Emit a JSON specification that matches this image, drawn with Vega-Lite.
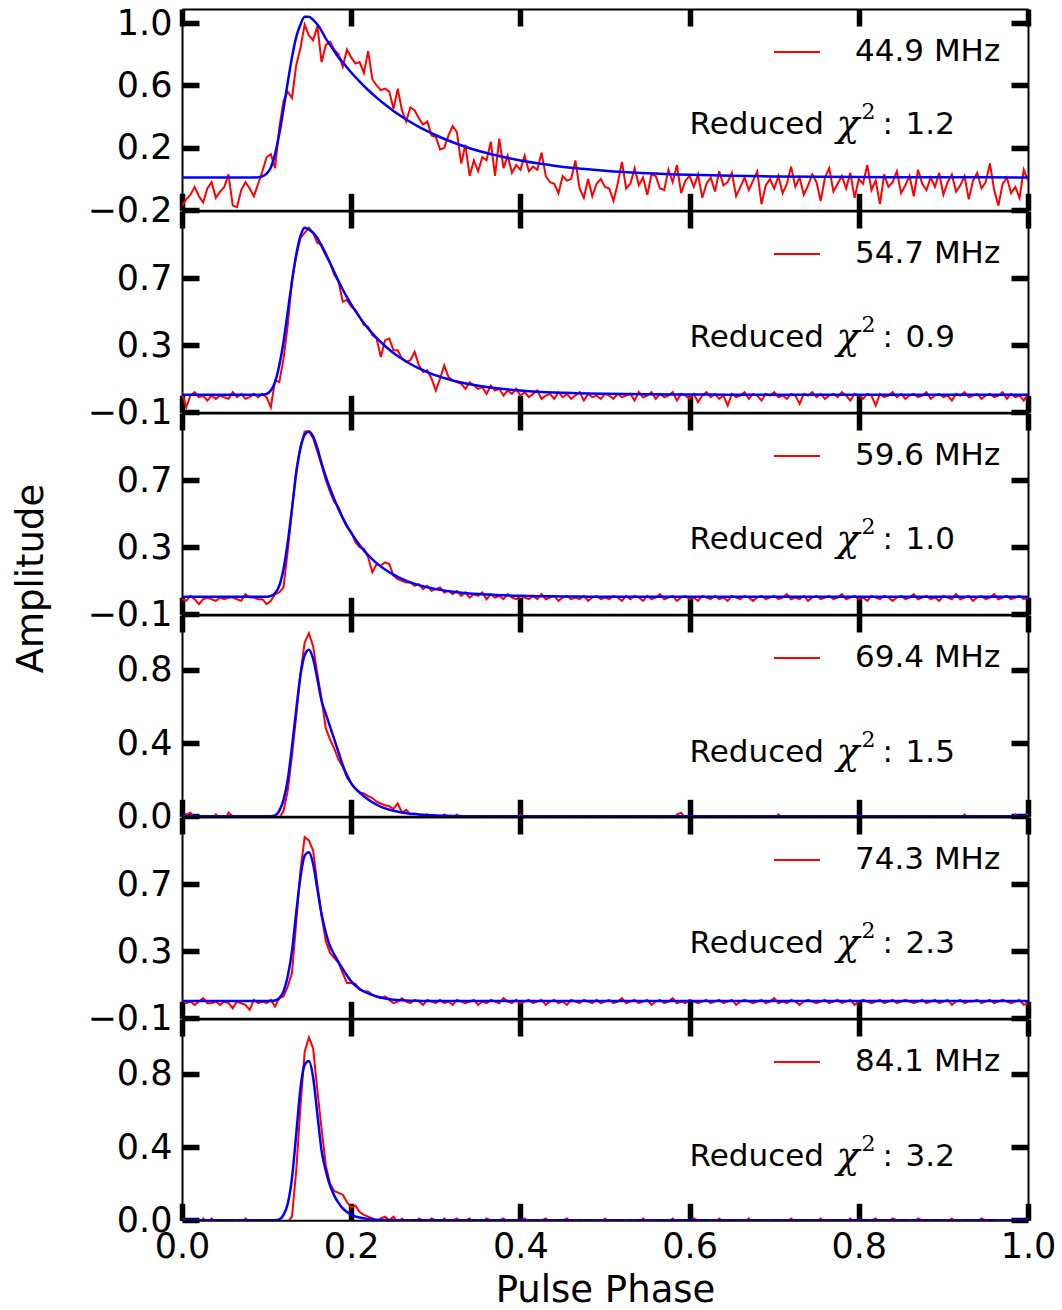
{
"$schema":"https://vega.github.io/schema/vega-lite/v6.json",
"background":"white",
"padding":{"left":11,"top":6,"right":0,"bottom":4},
"config":{
 "font":"DejaVu Sans",
 "view":{"stroke":null},
 "axis":{"grid":false,"domainColor":"#000000","domainWidth":2,"tickColor":"#000000","tickWidth":5.5,"tickSize":-17,"tickCap":"butt","labelFont":"DejaVu Sans","labelFontSize":35,"labelColor":"#000000","labelFlush":false,"labelOverlap":false,"labelPadding":27,"titleFont":"DejaVu Sans","titleFontSize":37,"titleFontWeight":"normal","titleColor":"#000000","zindex":1},
 "legend":{"orient":"none","legendX":591,"legendY":19,"padding":0,"symbolType":"stroke","symbolSize":2116,"symbolStrokeWidth":2,"labelFont":"DejaVu Sans","labelFontSize":31,"labelColor":"#000000","labelOffset":34},
 "text":{"font":"DejaVu Sans","color":"#000000"}
},
"datasets":{
"obs":[
{"p":0,"a":-0.17,"b":0.02,"c":-0.01,"d":-0.02,"e":0.01,"f":0.01},
{"p":0.005,"a":-0.13,"b":-0.07,"c":-0.02,"d":0.01,"e":-0.01,"f":-0.01},
{"p":0.01,"a":-0.10,"b":0.00,"c":0.01,"d":0.02,"e":0.00,"f":-0.02},
{"p":0.015,"a":-0.05,"b":0.02,"c":-0.01,"d":-0.01,"e":-0.02,"f":-0.01},
{"p":0.02,"a":-0.11,"b":-0.01,"c":-0.04,"d":-0.02,"e":0.00,"f":-0.03},
{"p":0.025,"a":-0.15,"b":0.00,"c":-0.01,"d":-0.03,"e":0.02,"f":0.01},
{"p":0.03,"a":-0.06,"b":-0.03,"c":0.00,"d":0.00,"e":-0.01,"f":-0.02},
{"p":0.035,"a":-0.02,"b":0.00,"c":-0.01,"d":-0.02,"e":-0.01,"f":0.01},
{"p":0.04,"a":-0.12,"b":-0.02,"c":-0.02,"d":0.01,"e":0.00,"f":-0.01},
{"p":0.045,"a":-0.08,"b":0.00,"c":0.00,"d":-0.01,"e":-0.02,"f":-0.03},
{"p":0.05,"a":-0.05,"b":-0.01,"c":-0.01,"d":-0.03,"e":0.00,"f":-0.01},
{"p":0.055,"a":0.03,"b":-0.02,"c":0.00,"d":0.02,"e":-0.01,"f":-0.02},
{"p":0.06,"a":-0.17,"b":0.02,"c":0.00,"d":0.00,"e":-0.04,"f":-0.01},
{"p":0.065,"a":-0.18,"b":-0.01,"c":-0.01,"d":-0.02,"e":0.00,"f":0.00},
{"p":0.07,"a":-0.07,"b":0.01,"c":-0.02,"d":-0.01,"e":-0.01,"f":-0.02},
{"p":0.075,"a":-0.02,"b":-0.02,"c":0.02,"d":-0.03,"e":-0.02,"f":0.01},
{"p":0.08,"a":-0.06,"b":-0.01,"c":0.00,"d":-0.02,"e":-0.05,"f":-0.01},
{"p":0.085,"a":-0.11,"b":0.01,"c":0.00,"d":-0.01,"e":0.01,"f":-0.02},
{"p":0.09,"a":-0.03,"b":-0.01,"c":-0.01,"d":-0.02,"e":-0.01,"f":-0.01},
{"p":0.095,"a":0.05,"b":0.01,"c":-0.01,"d":-0.03,"e":0.00,"f":-0.02},
{"p":0.1,"a":0.14,"b":-0.01,"c":-0.04,"d":-0.02,"e":-0.01,"f":-0.01},
{"p":0.105,"a":0.16,"b":-0.07,"c":-0.02,"d":-0.03,"e":0.01,"f":-0.02},
{"p":0.11,"a":0.07,"b":0.09,"c":0.02,"d":-0.02,"e":-0.03,"f":-0.02},
{"p":0.115,"a":0.33,"b":0.08,"c":0.03,"d":-0.01,"e":0.02,"f":-0.02},
{"p":0.12,"a":0.50,"b":0.22,"c":0.06,"d":0.03,"e":0.03,"f":-0.01},
{"p":0.125,"a":0.56,"b":0.42,"c":0.28,"d":0.14,"e":0.09,"f":-0.01},
{"p":0.13,"a":0.52,"b":0.69,"c":0.52,"d":0.33,"e":0.17,"f":0.02},
{"p":0.135,"a":0.73,"b":0.83,"c":0.76,"d":0.55,"e":0.47,"f":0.27},
{"p":0.14,"a":0.84,"b":0.94,"c":0.90,"d":0.78,"e":0.78,"f":0.62},
{"p":0.145,"a":0.99,"b":0.97,"c":0.99,"d":0.95,"e":0.98,"f":0.92},
{"p":0.15,"a":0.92,"b":1.00,"c":0.99,"d":1.00,"e":0.96,"f":1.00},
{"p":0.155,"a":0.89,"b":0.97,"c":0.95,"d":0.93,"e":0.90,"f":0.94},
{"p":0.16,"a":0.98,"b":0.91,"c":0.87,"d":0.78,"e":0.70,"f":0.71},
{"p":0.165,"a":0.75,"b":0.90,"c":0.79,"d":0.64,"e":0.51,"f":0.50},
{"p":0.17,"a":0.86,"b":0.85,"c":0.70,"d":0.48,"e":0.36,"f":0.30},
{"p":0.175,"a":0.88,"b":0.79,"c":0.63,"d":0.42,"e":0.29,"f":0.20},
{"p":0.18,"a":0.83,"b":0.72,"c":0.57,"d":0.37,"e":0.26,"f":0.16},
{"p":0.185,"a":0.80,"b":0.68,"c":0.54,"d":0.31,"e":0.23,"f":0.15},
{"p":0.19,"a":0.72,"b":0.56,"c":0.47,"d":0.27,"e":0.17,"f":0.14},
{"p":0.195,"a":0.83,"b":0.57,"c":0.42,"d":0.21,"e":0.11,"f":0.10},
{"p":0.2,"a":0.78,"b":0.53,"c":0.39,"d":0.18,"e":0.11,"f":0.07},
{"p":0.205,"a":0.74,"b":0.51,"c":0.33,"d":0.15,"e":0.105,"f":0.08},
{"p":0.21,"a":0.75,"b":0.47,"c":0.30,"d":0.13,"e":0.07,"f":0.045},
{"p":0.215,"a":0.68,"b":0.42,"c":0.29,"d":0.125,"e":0.06,"f":0.03},
{"p":0.22,"a":0.82,"b":0.41,"c":0.24,"d":0.11,"e":0.06,"f":0.02},
{"p":0.225,"a":0.64,"b":0.36,"c":0.15,"d":0.10,"e":0.04,"f":0.01},
{"p":0.23,"a":0.60,"b":0.34,"c":0.20,"d":0.08,"e":0.03,"f":-0.01},
{"p":0.235,"a":0.57,"b":0.23,"c":0.19,"d":0.07,"e":0.02,"f":0.01},
{"p":0.24,"a":0.58,"b":0.33,"c":0.21,"d":0.06,"e":0.03,"f":0.02},
{"p":0.245,"a":0.56,"b":0.34,"c":0.20,"d":0.055,"e":0.01,"f":0.00},
{"p":0.25,"a":0.45,"b":0.27,"c":0.13,"d":0.04,"e":-0.01,"f":0.02},
{"p":0.255,"a":0.58,"b":0.27,"c":0.11,"d":0.07,"e":0.00,"f":-0.01},
{"p":0.26,"a":0.44,"b":0.22,"c":0.10,"d":0.02,"e":0.02,"f":0.01},
{"p":0.265,"a":0.37,"b":0.20,"c":0.09,"d":0.035,"e":0.00,"f":-0.01},
{"p":0.27,"a":0.46,"b":0.21,"c":0.09,"d":0.01,"e":-0.01,"f":0.00},
{"p":0.275,"a":0.44,"b":0.26,"c":0.07,"d":0.015,"e":0.01,"f":-0.02},
{"p":0.28,"a":0.39,"b":0.18,"c":0.08,"d":0.01,"e":0.00,"f":0.01},
{"p":0.285,"a":0.35,"b":0.14,"c":0.05,"d":0.00,"e":-0.02,"f":0.00},
{"p":0.29,"a":0.37,"b":0.15,"c":0.07,"d":0.01,"e":0.01,"f":-0.01},
{"p":0.295,"a":0.28,"b":0.10,"c":0.04,"d":-0.01,"e":0.00,"f":0.01},
{"p":0.3,"a":0.27,"b":0.03,"c":0.05,"d":0.00,"e":-0.01,"f":0.00},
{"p":0.305,"a":0.19,"b":0.10,"c":0.06,"d":-0.02,"e":0.01,"f":-0.02},
{"p":0.31,"a":0.20,"b":0.18,"c":0.03,"d":0.01,"e":-0.01,"f":0.01},
{"p":0.315,"a":0.28,"b":0.11,"c":0.04,"d":0.00,"e":0.00,"f":-0.01},
{"p":0.32,"a":0.34,"b":0.09,"c":0.02,"d":-0.01,"e":-0.02,"f":0.00},
{"p":0.325,"a":0.30,"b":0.08,"c":0.04,"d":0.01,"e":0.01,"f":0.01},
{"p":0.33,"a":0.10,"b":0.07,"c":0.01,"d":-0.01,"e":0.00,"f":-0.01},
{"p":0.335,"a":0.22,"b":0.04,"c":0.03,"d":0.00,"e":-0.01,"f":0.00},
{"p":0.34,"a":0.02,"b":0.08,"c":0.00,"d":-0.02,"e":0.00,"f":0.01},
{"p":0.345,"a":0.12,"b":0.06,"c":0.02,"d":-0.01,"e":0.01,"f":-0.02},
{"p":0.35,"a":0.05,"b":0.04,"c":0.01,"d":0.00,"e":-0.02,"f":0.00},
{"p":0.355,"a":0.14,"b":0.05,"c":0.03,"d":-0.02,"e":0.00,"f":-0.01},
{"p":0.36,"a":0.12,"b":0.01,"c":-0.01,"d":-0.01,"e":-0.01,"f":0.01},
{"p":0.365,"a":0.24,"b":0.06,"c":0.02,"d":0.00,"e":0.01,"f":0.00},
{"p":0.37,"a":0.02,"b":0.03,"c":0.00,"d":-0.01,"e":0.00,"f":-0.01},
{"p":0.375,"a":0.26,"b":0.04,"c":0.01,"d":-0.02,"e":-0.01,"f":0.00},
{"p":0.38,"a":0.07,"b":0.00,"c":-0.01,"d":0.00,"e":0.02,"f":0.01},
{"p":0.385,"a":0.15,"b":0.03,"c":0.02,"d":-0.01,"e":0.00,"f":-0.01},
{"p":0.39,"a":0.04,"b":0.01,"c":0.00,"d":-0.02,"e":-0.01,"f":0.00},
{"p":0.395,"a":0.09,"b":0.04,"c":-0.01,"d":-0.01,"e":0.01,"f":-0.02},
{"p":0.4,"a":0.06,"b":0.00,"c":0.01,"d":0.01,"e":-0.01,"f":0.00},
{"p":0.405,"a":0.15,"b":0.02,"c":0.00,"d":-0.01,"e":0.00,"f":0.01},
{"p":0.41,"a":0.05,"b":-0.01,"c":-0.01,"d":-0.02,"e":0.01,"f":-0.01},
{"p":0.415,"a":0.08,"b":0.01,"c":0.01,"d":0.00,"e":-0.01,"f":0.00},
{"p":0.42,"a":0.06,"b":0.03,"c":-0.01,"d":-0.01,"e":0.00,"f":-0.01},
{"p":0.425,"a":0.17,"b":-0.02,"c":0.02,"d":0.00,"e":0.01,"f":0.00},
{"p":0.43,"a":0.02,"b":0.00,"c":-0.01,"d":-0.02,"e":-0.02,"f":0.01},
{"p":0.435,"a":-0.02,"b":0.01,"c":0.00,"d":-0.01,"e":0.00,"f":-0.01},
{"p":0.44,"a":-0.03,"b":-0.02,"c":0.01,"d":0.00,"e":0.01,"f":0.00},
{"p":0.445,"a":-0.09,"b":0.02,"c":-0.02,"d":-0.01,"e":-0.01,"f":-0.02},
{"p":0.45,"a":0.02,"b":-0.01,"c":0.00,"d":-0.02,"e":0.00,"f":0.00},
{"p":0.455,"a":-0.01,"b":0.01,"c":0.01,"d":0.00,"e":-0.02,"f":0.01},
{"p":0.46,"a":0.00,"b":-0.02,"c":-0.01,"d":-0.01,"e":0.01,"f":-0.01},
{"p":0.465,"a":0.12,"b":0.00,"c":0.00,"d":-0.02,"e":0.00,"f":0.00},
{"p":0.47,"a":-0.06,"b":0.02,"c":-0.01,"d":0.00,"e":-0.01,"f":-0.01},
{"p":0.475,"a":-0.12,"b":-0.03,"c":0.01,"d":-0.01,"e":0.01,"f":0.00},
{"p":0.48,"a":0.00,"b":0.01,"c":-0.02,"d":-0.02,"e":0.00,"f":-0.02},
{"p":0.485,"a":-0.11,"b":-0.01,"c":0.00,"d":-0.01,"e":-0.01,"f":-0.01},
{"p":0.49,"a":-0.03,"b":0.00,"c":0.01,"d":0.00,"e":0.01,"f":0.00},
{"p":0.495,"a":0.00,"b":-0.02,"c":-0.01,"d":-0.02,"e":-0.01,"f":-0.01},
{"p":0.5,"a":-0.05,"b":0.01,"c":0.00,"d":-0.01,"e":0.00,"f":0.01},
{"p":0.505,"a":-0.06,"b":0.00,"c":-0.01,"d":0.00,"e":0.01,"f":-0.01},
{"p":0.51,"a":-0.14,"b":-0.02,"c":0.01,"d":-0.02,"e":-0.01,"f":0.00},
{"p":0.515,"a":-0.03,"b":0.01,"c":0.00,"d":-0.01,"e":0.00,"f":-0.02},
{"p":0.52,"a":0.11,"b":-0.01,"c":-0.02,"d":-0.02,"e":0.02,"f":-0.01},
{"p":0.525,"a":-0.06,"b":0.00,"c":0.01,"d":-0.01,"e":-0.01,"f":0.00},
{"p":0.53,"a":-0.03,"b":0.01,"c":-0.01,"d":-0.01,"e":0.00,"f":-0.01},
{"p":0.535,"a":0.07,"b":-0.03,"c":0.01,"d":-0.02,"e":0.01,"f":0.00},
{"p":0.54,"a":-0.04,"b":0.02,"c":0.00,"d":0.00,"e":-0.01,"f":-0.02},
{"p":0.545,"a":0.01,"b":-0.01,"c":-0.02,"d":-0.01,"e":0.00,"f":0.01},
{"p":0.55,"a":-0.10,"b":0.00,"c":0.01,"d":-0.02,"e":0.01,"f":-0.01},
{"p":0.555,"a":0.03,"b":0.02,"c":-0.01,"d":0.00,"e":-0.02,"f":0.00},
{"p":0.56,"a":0.02,"b":-0.02,"c":0.00,"d":-0.01,"e":0.00,"f":-0.01},
{"p":0.565,"a":-0.06,"b":0.01,"c":0.02,"d":-0.02,"e":0.01,"f":-0.02},
{"p":0.57,"a":-0.07,"b":-0.01,"c":-0.01,"d":0.00,"e":-0.01,"f":0.00},
{"p":0.575,"a":0.06,"b":0.00,"c":0.00,"d":-0.01,"e":0.00,"f":-0.01},
{"p":0.58,"a":-0.02,"b":0.02,"c":0.01,"d":-0.02,"e":0.02,"f":0.01},
{"p":0.585,"a":0.09,"b":-0.03,"c":-0.02,"d":0.01,"e":-0.01,"f":-0.01},
{"p":0.59,"a":-0.09,"b":0.01,"c":0.00,"d":0.02,"e":0.00,"f":0.00},
{"p":0.595,"a":-0.01,"b":0.00,"c":0.01,"d":-0.01,"e":-0.01,"f":-0.02},
{"p":0.6,"a":0.02,"b":-0.02,"c":-0.01,"d":0.00,"e":0.01,"f":-0.01},
{"p":0.605,"a":-0.05,"b":0.01,"c":0.00,"d":-0.02,"e":0.00,"f":0.01},
{"p":0.61,"a":0.03,"b":-0.04,"c":-0.02,"d":-0.01,"e":-0.01,"f":0.00},
{"p":0.615,"a":-0.12,"b":0.00,"c":0.01,"d":0.00,"e":0.00,"f":-0.01},
{"p":0.62,"a":-0.03,"b":0.02,"c":0.00,"d":-0.02,"e":0.01,"f":-0.02},
{"p":0.625,"a":0.01,"b":-0.01,"c":-0.01,"d":-0.01,"e":-0.01,"f":0.00},
{"p":0.63,"a":-0.08,"b":0.01,"c":0.01,"d":0.00,"e":0.00,"f":-0.01},
{"p":0.635,"a":0.05,"b":-0.02,"c":-0.01,"d":-0.02,"e":0.01,"f":0.01},
{"p":0.64,"a":-0.04,"b":0.00,"c":0.00,"d":-0.01,"e":-0.01,"f":-0.01},
{"p":0.645,"a":-0.02,"b":-0.06,"c":-0.02,"d":0.00,"e":0.00,"f":0.00},
{"p":0.65,"a":0.04,"b":0.01,"c":0.01,"d":-0.02,"e":0.01,"f":-0.02},
{"p":0.655,"a":-0.11,"b":-0.01,"c":0.00,"d":-0.01,"e":-0.02,"f":-0.01},
{"p":0.66,"a":-0.05,"b":0.00,"c":-0.01,"d":0.00,"e":0.00,"f":0.00},
{"p":0.665,"a":0.01,"b":0.02,"c":0.01,"d":-0.02,"e":0.01,"f":-0.01},
{"p":0.67,"a":-0.07,"b":-0.02,"c":0.00,"d":-0.01,"e":0.00,"f":0.01},
{"p":0.675,"a":-0.01,"b":0.01,"c":-0.02,"d":0.00,"e":-0.01,"f":-0.02},
{"p":0.68,"a":0.05,"b":0.00,"c":0.00,"d":-0.01,"e":0.00,"f":-0.01},
{"p":0.685,"a":-0.16,"b":-0.03,"c":0.01,"d":-0.02,"e":0.01,"f":0.00},
{"p":0.69,"a":-0.04,"b":0.01,"c":-0.01,"d":0.00,"e":-0.01,"f":-0.01},
{"p":0.695,"a":0.00,"b":0.00,"c":0.00,"d":-0.01,"e":0.00,"f":0.00},
{"p":0.7,"a":-0.06,"b":0.02,"c":0.01,"d":-0.02,"e":0.02,"f":-0.02},
{"p":0.705,"a":0.02,"b":-0.01,"c":-0.01,"d":0.01,"e":-0.01,"f":-0.01},
{"p":0.71,"a":-0.09,"b":0.00,"c":0.00,"d":-0.01,"e":0.00,"f":0.00},
{"p":0.715,"a":-0.03,"b":-0.02,"c":0.02,"d":0.00,"e":-0.01,"f":-0.01},
{"p":0.72,"a":0.08,"b":0.01,"c":-0.01,"d":-0.02,"e":0.01,"f":0.01},
{"p":0.725,"a":-0.05,"b":0.00,"c":0.00,"d":-0.01,"e":0.00,"f":-0.01},
{"p":0.73,"a":0.01,"b":-0.05,"c":-0.01,"d":0.00,"e":-0.02,"f":0.00},
{"p":0.735,"a":-0.10,"b":0.01,"c":0.01,"d":-0.02,"e":0.00,"f":-0.02},
{"p":0.74,"a":-0.04,"b":0.00,"c":-0.02,"d":-0.01,"e":0.01,"f":-0.01},
{"p":0.745,"a":0.03,"b":0.02,"c":0.00,"d":0.00,"e":0.00,"f":0.00},
{"p":0.75,"a":-0.02,"b":-0.01,"c":0.01,"d":-0.01,"e":-0.01,"f":-0.01},
{"p":0.755,"a":-0.14,"b":0.01,"c":-0.01,"d":-0.02,"e":0.00,"f":0.01},
{"p":0.76,"a":0.01,"b":-0.02,"c":0.00,"d":0.00,"e":0.01,"f":-0.01},
{"p":0.765,"a":0.07,"b":0.00,"c":0.01,"d":-0.01,"e":-0.01,"f":0.00},
{"p":0.77,"a":-0.08,"b":0.01,"c":-0.01,"d":-0.02,"e":0.00,"f":-0.02},
{"p":0.775,"a":-0.03,"b":-0.01,"c":0.00,"d":0.00,"e":0.01,"f":-0.01},
{"p":0.78,"a":0.02,"b":0.02,"c":0.02,"d":-0.01,"e":-0.01,"f":0.00},
{"p":0.785,"a":-0.06,"b":0.00,"c":-0.01,"d":-0.02,"e":0.00,"f":-0.01},
{"p":0.79,"a":0.04,"b":-0.03,"c":0.00,"d":0.00,"e":0.01,"f":0.01},
{"p":0.795,"a":-0.12,"b":0.01,"c":0.01,"d":-0.01,"e":-0.02,"f":-0.01},
{"p":0.8,"a":0.00,"b":0.00,"c":-0.01,"d":0.00,"e":0.00,"f":0.00},
{"p":0.805,"a":-0.03,"b":-0.02,"c":0.00,"d":-0.02,"e":0.01,"f":-0.02},
{"p":0.81,"a":0.09,"b":0.01,"c":-0.02,"d":-0.01,"e":0.00,"f":-0.01},
{"p":0.815,"a":-0.07,"b":0.00,"c":0.01,"d":0.00,"e":-0.01,"f":0.00},
{"p":0.82,"a":-0.01,"b":-0.06,"c":0.00,"d":-0.01,"e":0.00,"f":0.01},
{"p":0.825,"a":-0.16,"b":0.01,"c":-0.01,"d":-0.02,"e":0.01,"f":-0.01},
{"p":0.83,"a":0.03,"b":-0.01,"c":0.01,"d":0.00,"e":-0.01,"f":0.00},
{"p":0.835,"a":-0.05,"b":0.00,"c":0.00,"d":-0.01,"e":0.00,"f":-0.01},
{"p":0.84,"a":-0.02,"b":0.02,"c":-0.02,"d":0.00,"e":0.01,"f":0.01},
{"p":0.845,"a":0.05,"b":-0.01,"c":0.00,"d":-0.02,"e":-0.01,"f":0.00},
{"p":0.85,"a":-0.09,"b":0.01,"c":0.01,"d":-0.01,"e":0.00,"f":-0.02},
{"p":0.855,"a":-0.04,"b":-0.02,"c":-0.01,"d":0.00,"e":0.01,"f":-0.01},
{"p":0.86,"a":0.02,"b":0.00,"c":0.00,"d":-0.01,"e":0.00,"f":0.00},
{"p":0.865,"a":-0.11,"b":0.01,"c":0.02,"d":-0.02,"e":-0.01,"f":-0.01},
{"p":0.87,"a":0.06,"b":-0.01,"c":-0.01,"d":0.00,"e":0.00,"f":0.01},
{"p":0.875,"a":-0.03,"b":0.00,"c":0.00,"d":-0.01,"e":0.01,"f":0.00},
{"p":0.88,"a":-0.07,"b":0.02,"c":0.01,"d":0.00,"e":-0.01,"f":-0.01},
{"p":0.885,"a":0.01,"b":-0.02,"c":-0.01,"d":-0.02,"e":0.00,"f":0.00},
{"p":0.89,"a":-0.05,"b":0.00,"c":0.00,"d":-0.01,"e":0.01,"f":-0.02},
{"p":0.895,"a":0.04,"b":0.01,"c":-0.02,"d":0.00,"e":-0.01,"f":-0.01},
{"p":0.9,"a":-0.10,"b":-0.01,"c":0.01,"d":-0.02,"e":0.00,"f":0.00},
{"p":0.905,"a":-0.02,"b":0.00,"c":0.00,"d":-0.01,"e":0.01,"f":-0.01},
{"p":0.91,"a":0.03,"b":-0.03,"c":-0.01,"d":0.00,"e":-0.02,"f":0.01},
{"p":0.915,"a":-0.08,"b":0.01,"c":0.02,"d":-0.01,"e":0.00,"f":-0.01},
{"p":0.92,"a":-0.04,"b":0.00,"c":-0.01,"d":-0.02,"e":0.01,"f":0.00},
{"p":0.925,"a":0.02,"b":0.02,"c":0.00,"d":0.01,"e":-0.01,"f":-0.02},
{"p":0.93,"a":-0.13,"b":-0.01,"c":0.01,"d":-0.01,"e":0.00,"f":-0.01},
{"p":0.935,"a":-0.01,"b":0.00,"c":-0.02,"d":0.00,"e":0.00,"f":0.00},
{"p":0.94,"a":0.04,"b":0.01,"c":0.00,"d":-0.02,"e":0.01,"f":-0.01},
{"p":0.945,"a":-0.06,"b":-0.02,"c":0.01,"d":-0.01,"e":-0.01,"f":0.01},
{"p":0.95,"a":-0.02,"b":0.00,"c":-0.01,"d":0.00,"e":0.00,"f":0.00},
{"p":0.955,"a":0.10,"b":0.01,"c":0.00,"d":-0.01,"e":0.01,"f":-0.01},
{"p":0.96,"a":-0.07,"b":-0.01,"c":0.02,"d":0.00,"e":-0.01,"f":-0.02},
{"p":0.965,"a":-0.17,"b":0.00,"c":-0.01,"d":-0.02,"e":0.00,"f":0.00},
{"p":0.97,"a":-0.03,"b":0.02,"c":0.00,"d":-0.01,"e":0.01,"f":-0.01},
{"p":0.975,"a":0.01,"b":-0.02,"c":0.01,"d":0.00,"e":0.00,"f":0.00},
{"p":0.98,"a":-0.09,"b":0.01,"c":-0.01,"d":-0.01,"e":-0.01,"f":-0.01},
{"p":0.985,"a":-0.05,"b":-0.01,"c":0.00,"d":0.01,"e":0.00,"f":0.00},
{"p":0.99,"a":-0.12,"b":0.00,"c":0.01,"d":-0.02,"e":0.01,"f":-0.02},
{"p":0.995,"a":0.06,"b":-0.03,"c":-0.01,"d":0.00,"e":-0.02,"f":-0.01},
{"p":1,"a":-0.01,"b":0.01,"c":0.00,"d":0.01,"e":-0.01,"f":0.01}
],
"fit":[
{"p":0,"a":0.01,"b":0.005,"c":0.005,"d":0,"e":0.003,"f":0},
{"p":0.05,"a":0.01,"b":0.005,"c":0.005,"d":0,"e":0.003,"f":0},
{"p":0.08,"a":0.01,"b":0.005,"c":0.005,"d":0,"e":0.003,"f":0},
{"p":0.09,"a":0.012,"b":0.005,"c":0.005,"d":0,"e":0.003,"f":0},
{"p":0.095,"a":0.018,"b":0.005,"c":0.005,"d":0,"e":0.003,"f":0},
{"p":0.1,"a":0.035,"b":0.01,"c":0.005,"d":0,"e":0.003,"f":0},
{"p":0.105,"a":0.075,"b":0.03,"c":0.01,"d":0,"e":0.003,"f":0},
{"p":0.11,"a":0.16,"b":0.08,"c":0.025,"d":0.005,"e":0.006,"f":0},
{"p":0.115,"a":0.29,"b":0.18,"c":0.07,"d":0.03,"e":0.02,"f":0.005},
{"p":0.12,"a":0.45,"b":0.32,"c":0.17,"d":0.09,"e":0.06,"f":0.03},
{"p":0.125,"a":0.62,"b":0.5,"c":0.33,"d":0.2,"e":0.15,"f":0.09},
{"p":0.13,"a":0.78,"b":0.68,"c":0.53,"d":0.38,"e":0.3,"f":0.23},
{"p":0.135,"a":0.91,"b":0.84,"c":0.74,"d":0.58,"e":0.53,"f":0.47},
{"p":0.14,"a":0.99,"b":0.95,"c":0.89,"d":0.77,"e":0.74,"f":0.72},
{"p":0.145,"a":1.04,"b":1.0,"c":0.97,"d":0.88,"e":0.87,"f":0.85},
{"p":0.15,"a":1.04,"b":0.99,"c":0.99,"d":0.91,"e":0.89,"f":0.87},
{"p":0.155,"a":1.02,"b":0.97,"c":0.96,"d":0.86,"e":0.82,"f":0.78},
{"p":0.16,"a":0.99,"b":0.94,"c":0.89,"d":0.75,"e":0.67,"f":0.58},
{"p":0.165,"a":0.95,"b":0.89,"c":0.8,"d":0.63,"e":0.52,"f":0.38},
{"p":0.17,"a":0.9,"b":0.84,"c":0.72,"d":0.56,"e":0.41,"f":0.27},
{"p":0.175,"a":0.86,"b":0.79,"c":0.65,"d":0.49,"e":0.33,"f":0.19},
{"p":0.18,"a":0.82,"b":0.736,"c":0.586,"d":0.42,"e":0.28,"f":0.135},
{"p":0.185,"a":0.78,"b":0.682,"c":0.527,"d":0.35,"e":0.235,"f":0.095},
{"p":0.19,"a":0.75,"b":0.632,"c":0.475,"d":0.28,"e":0.195,"f":0.065},
{"p":0.195,"a":0.715,"b":0.586,"c":0.427,"d":0.225,"e":0.155,"f":0.045},
{"p":0.2,"a":0.683,"b":0.543,"c":0.385,"d":0.18,"e":0.12,"f":0.03},
{"p":0.21,"a":0.625,"b":0.466,"c":0.312,"d":0.13,"e":0.075,"f":0.015},
{"p":0.22,"a":0.571,"b":0.4,"c":0.253,"d":0.092,"e":0.048,"f":0.007},
{"p":0.23,"a":0.522,"b":0.344,"c":0.205,"d":0.064,"e":0.03,"f":0.003},
{"p":0.24,"a":0.478,"b":0.295,"c":0.167,"d":0.043,"e":0.018,"f":0.001},
{"p":0.25,"a":0.437,"b":0.254,"c":0.136,"d":0.03,"e":0.011,"f":0},
{"p":0.26,"a":0.4,"b":0.219,"c":0.111,"d":0.021,"e":0.007,"f":0},
{"p":0.27,"a":0.366,"b":0.188,"c":0.09,"d":0.014,"e":0.005,"f":0},
{"p":0.28,"a":0.335,"b":0.162,"c":0.074,"d":0.01,"e":0.004,"f":0},
{"p":0.29,"a":0.307,"b":0.14,"c":0.061,"d":0.007,"e":0.003,"f":0},
{"p":0.3,"a":0.281,"b":0.12,"c":0.05,"d":0.005,"e":0.003,"f":0},
{"p":0.32,"a":0.236,"b":0.09,"c":0.035,"d":0.002,"e":0.003,"f":0},
{"p":0.34,"a":0.198,"b":0.067,"c":0.024,"d":0,"e":0.003,"f":0},
{"p":0.36,"a":0.167,"b":0.051,"c":0.018,"d":0,"e":0.003,"f":0},
{"p":0.38,"a":0.141,"b":0.039,"c":0.013,"d":0,"e":0.003,"f":0},
{"p":0.4,"a":0.119,"b":0.03,"c":0.01,"d":0,"e":0.003,"f":0},
{"p":0.42,"a":0.101,"b":0.023,"c":0.008,"d":0,"e":0.003,"f":0},
{"p":0.44,"a":0.086,"b":0.018,"c":0.007,"d":0,"e":0.003,"f":0},
{"p":0.46,"a":0.073,"b":0.015,"c":0.006,"d":0,"e":0.003,"f":0},
{"p":0.48,"a":0.063,"b":0.012,"c":0.005,"d":0,"e":0.003,"f":0},
{"p":0.5,"a":0.054,"b":0.01,"c":0.005,"d":0,"e":0.003,"f":0},
{"p":0.55,"a":0.038,"b":0.007,"c":0.005,"d":0,"e":0.003,"f":0},
{"p":0.6,"a":0.028,"b":0.006,"c":0.005,"d":0,"e":0.003,"f":0},
{"p":0.65,"a":0.021,"b":0.005,"c":0.005,"d":0,"e":0.003,"f":0},
{"p":0.7,"a":0.017,"b":0.005,"c":0.005,"d":0,"e":0.003,"f":0},
{"p":0.75,"a":0.0145,"b":0.005,"c":0.005,"d":0,"e":0.003,"f":0},
{"p":0.8,"a":0.013,"b":0.005,"c":0.005,"d":0,"e":0.003,"f":0},
{"p":0.85,"a":0.012,"b":0.005,"c":0.005,"d":0,"e":0.003,"f":0},
{"p":0.9,"a":0.011,"b":0.005,"c":0.005,"d":0,"e":0.003,"f":0},
{"p":0.95,"a":0.011,"b":0.005,"c":0.005,"d":0,"e":0.003,"f":0},
{"p":1,"a":0.01,"b":0.005,"c":0.005,"d":0,"e":0.003,"f":0}
]
},
"spacing":0,
"bounds":"flush",
"resolve":{"scale":{"color":"independent"},"legend":{"color":"independent"}},
"vconcat":[
{"width":846,"height":201.3,"resolve":{"axis":{"x":"independent","y":"independent"}},
 "layer":[
  {"data":{"name":"obs"},"mark":{"type":"line","strokeWidth":2,"clip":true},
   "encoding":{
    "x":{"field":"p","type":"quantitative","scale":{"domain":[0,1],"nice":false,"zero":false},"axis":{"orient":"bottom","values":[0,0.2,0.4,0.6,0.8,1],"labels":false,"title":null}},
    "y":{"field":"a","type":"quantitative","scale":{"domain":[-0.2,1.09],"nice":false,"zero":false},"axis":{"orient":"left","values":[-0.2,0.2,0.6,1.0],"format":".1f","title":null}},
    "color":{"datum":"44.9 MHz","type":"nominal","scale":{"range":["#ff0000"]},"legend":{"title":null}}}},
  {"data":{"name":"fit"},"mark":{"type":"line","color":"#0000ff","strokeWidth":2.5,"clip":true,"interpolate":"monotone"},
   "encoding":{
    "x":{"field":"p","type":"quantitative","scale":{"domain":[0,1],"nice":false,"zero":false},"axis":{"orient":"top","values":[0,0.2,0.4,0.6,0.8,1],"labels":false,"title":null}},
    "y":{"field":"a","type":"quantitative","scale":{"domain":[-0.2,1.09],"nice":false,"zero":false},"axis":{"orient":"right","values":[-0.2,0.2,0.6,1.0],"labels":false,"title":null}}}},
  {"data":{"values":[{}]},"mark":{"type":"text","align":"left","baseline":"middle","fontSize":31},
   "encoding":{"x":{"datum":0.6,"type":"quantitative","axis":null},"y":{"datum":0.345,"type":"quantitative","axis":null},"text":{"value":"Reduced"}}},
  {"data":{"values":[{}]},"mark":{"type":"text","align":"left","baseline":"middle","fontSize":38,"font":"DejaVu Serif","fontStyle":"italic","dx":147},
   "encoding":{"x":{"datum":0.6,"type":"quantitative","axis":null},"y":{"datum":0.345,"type":"quantitative","axis":null},"text":{"value":"χ"}}},
  {"data":{"values":[{}]},"mark":{"type":"text","align":"left","baseline":"middle","fontSize":22,"font":"DejaVu Serif","dx":172,"dy":-13},
   "encoding":{"x":{"datum":0.6,"type":"quantitative","axis":null},"y":{"datum":0.345,"type":"quantitative","axis":null},"text":{"value":"2"}}},
  {"data":{"values":[{}]},"mark":{"type":"text","align":"left","baseline":"middle","fontSize":31,"dx":193},
   "encoding":{"x":{"datum":0.6,"type":"quantitative","axis":null},"y":{"datum":0.345,"type":"quantitative","axis":null},"text":{"value":":"}}},
  {"data":{"values":[{}]},"mark":{"type":"text","align":"left","baseline":"middle","fontSize":31,"dx":216},
   "encoding":{"x":{"datum":0.6,"type":"quantitative","axis":null},"y":{"datum":0.345,"type":"quantitative","axis":null},"text":{"value":"1.2"}}}
 ]},
{"width":846,"height":201.3,"resolve":{"axis":{"x":"independent","y":"independent"}},
 "layer":[
  {"data":{"name":"obs"},"mark":{"type":"line","strokeWidth":2,"clip":true},
   "encoding":{
    "x":{"field":"p","type":"quantitative","scale":{"domain":[0,1],"nice":false,"zero":false},"axis":{"orient":"bottom","values":[0,0.2,0.4,0.6,0.8,1],"labels":false,"title":null}},
    "y":{"field":"b","type":"quantitative","scale":{"domain":[-0.1,1.1],"nice":false,"zero":false},"axis":{"orient":"left","values":[-0.1,0.3,0.7],"format":".1f","title":null}},
    "color":{"datum":"54.7 MHz","type":"nominal","scale":{"range":["#ff0000"]},"legend":{"title":null}}}},
  {"data":{"name":"fit"},"mark":{"type":"line","color":"#0000ff","strokeWidth":2.5,"clip":true,"interpolate":"monotone"},
   "encoding":{
    "x":{"field":"p","type":"quantitative","scale":{"domain":[0,1],"nice":false,"zero":false},"axis":{"orient":"top","values":[0,0.2,0.4,0.6,0.8,1],"labels":false,"title":null}},
    "y":{"field":"b","type":"quantitative","scale":{"domain":[-0.1,1.1],"nice":false,"zero":false},"axis":{"orient":"right","values":[-0.1,0.3,0.7],"labels":false,"title":null}}}},
  {"data":{"values":[{}]},"mark":{"type":"text","align":"left","baseline":"middle","fontSize":31},
   "encoding":{"x":{"datum":0.6,"type":"quantitative","axis":null},"y":{"datum":0.345,"type":"quantitative","axis":null},"text":{"value":"Reduced"}}},
  {"data":{"values":[{}]},"mark":{"type":"text","align":"left","baseline":"middle","fontSize":38,"font":"DejaVu Serif","fontStyle":"italic","dx":147},
   "encoding":{"x":{"datum":0.6,"type":"quantitative","axis":null},"y":{"datum":0.345,"type":"quantitative","axis":null},"text":{"value":"χ"}}},
  {"data":{"values":[{}]},"mark":{"type":"text","align":"left","baseline":"middle","fontSize":22,"font":"DejaVu Serif","dx":172,"dy":-13},
   "encoding":{"x":{"datum":0.6,"type":"quantitative","axis":null},"y":{"datum":0.345,"type":"quantitative","axis":null},"text":{"value":"2"}}},
  {"data":{"values":[{}]},"mark":{"type":"text","align":"left","baseline":"middle","fontSize":31,"dx":193},
   "encoding":{"x":{"datum":0.6,"type":"quantitative","axis":null},"y":{"datum":0.345,"type":"quantitative","axis":null},"text":{"value":":"}}},
  {"data":{"values":[{}]},"mark":{"type":"text","align":"left","baseline":"middle","fontSize":31,"dx":216},
   "encoding":{"x":{"datum":0.6,"type":"quantitative","axis":null},"y":{"datum":0.345,"type":"quantitative","axis":null},"text":{"value":"0.9"}}}
 ]},
{"width":846,"height":201.3,"resolve":{"axis":{"x":"independent","y":"independent"}},
 "layer":[
  {"data":{"name":"obs"},"mark":{"type":"line","strokeWidth":2,"clip":true},
   "encoding":{
    "x":{"field":"p","type":"quantitative","scale":{"domain":[0,1],"nice":false,"zero":false},"axis":{"orient":"bottom","values":[0,0.2,0.4,0.6,0.8,1],"labels":false,"title":null}},
    "y":{"field":"c","type":"quantitative","scale":{"domain":[-0.1,1.1],"nice":false,"zero":false},"axis":{"orient":"left","values":[-0.1,0.3,0.7],"format":".1f","title":"Amplitude","titleX":-140,"titleY":165,"titleAngle":-90,"titleAlign":"center","titleBaseline":"alphabetic"}},
    "color":{"datum":"59.6 MHz","type":"nominal","scale":{"range":["#ff0000"]},"legend":{"title":null}}}},
  {"data":{"name":"fit"},"mark":{"type":"line","color":"#0000ff","strokeWidth":2.5,"clip":true,"interpolate":"monotone"},
   "encoding":{
    "x":{"field":"p","type":"quantitative","scale":{"domain":[0,1],"nice":false,"zero":false},"axis":{"orient":"top","values":[0,0.2,0.4,0.6,0.8,1],"labels":false,"title":null}},
    "y":{"field":"c","type":"quantitative","scale":{"domain":[-0.1,1.1],"nice":false,"zero":false},"axis":{"orient":"right","values":[-0.1,0.3,0.7],"labels":false,"title":null}}}},
  {"data":{"values":[{}]},"mark":{"type":"text","align":"left","baseline":"middle","fontSize":31},
   "encoding":{"x":{"datum":0.6,"type":"quantitative","axis":null},"y":{"datum":0.345,"type":"quantitative","axis":null},"text":{"value":"Reduced"}}},
  {"data":{"values":[{}]},"mark":{"type":"text","align":"left","baseline":"middle","fontSize":38,"font":"DejaVu Serif","fontStyle":"italic","dx":147},
   "encoding":{"x":{"datum":0.6,"type":"quantitative","axis":null},"y":{"datum":0.345,"type":"quantitative","axis":null},"text":{"value":"χ"}}},
  {"data":{"values":[{}]},"mark":{"type":"text","align":"left","baseline":"middle","fontSize":22,"font":"DejaVu Serif","dx":172,"dy":-13},
   "encoding":{"x":{"datum":0.6,"type":"quantitative","axis":null},"y":{"datum":0.345,"type":"quantitative","axis":null},"text":{"value":"2"}}},
  {"data":{"values":[{}]},"mark":{"type":"text","align":"left","baseline":"middle","fontSize":31,"dx":193},
   "encoding":{"x":{"datum":0.6,"type":"quantitative","axis":null},"y":{"datum":0.345,"type":"quantitative","axis":null},"text":{"value":":"}}},
  {"data":{"values":[{}]},"mark":{"type":"text","align":"left","baseline":"middle","fontSize":31,"dx":216},
   "encoding":{"x":{"datum":0.6,"type":"quantitative","axis":null},"y":{"datum":0.345,"type":"quantitative","axis":null},"text":{"value":"1.0"}}}
 ]},
{"width":846,"height":201.3,"resolve":{"axis":{"x":"independent","y":"independent"}},
 "layer":[
  {"data":{"name":"obs"},"mark":{"type":"line","strokeWidth":2,"clip":true},
   "encoding":{
    "x":{"field":"p","type":"quantitative","scale":{"domain":[0,1],"nice":false,"zero":false},"axis":{"orient":"bottom","values":[0,0.2,0.4,0.6,0.8,1],"labels":false,"title":null}},
    "y":{"field":"d","type":"quantitative","scale":{"domain":[0,1.1],"nice":false,"zero":false},"axis":{"orient":"left","values":[0,0.4,0.8],"format":".1f","title":null}},
    "color":{"datum":"69.4 MHz","type":"nominal","scale":{"range":["#ff0000"]},"legend":{"title":null}}}},
  {"data":{"name":"fit"},"mark":{"type":"line","color":"#0000ff","strokeWidth":2.5,"clip":true,"interpolate":"monotone"},
   "encoding":{
    "x":{"field":"p","type":"quantitative","scale":{"domain":[0,1],"nice":false,"zero":false},"axis":{"orient":"top","values":[0,0.2,0.4,0.6,0.8,1],"labels":false,"title":null}},
    "y":{"field":"d","type":"quantitative","scale":{"domain":[0,1.1],"nice":false,"zero":false},"axis":{"orient":"right","values":[0,0.4,0.8],"labels":false,"title":null}}}},
  {"data":{"values":[{}]},"mark":{"type":"text","align":"left","baseline":"middle","fontSize":31},
   "encoding":{"x":{"datum":0.6,"type":"quantitative","axis":null},"y":{"datum":0.345,"type":"quantitative","axis":null},"text":{"value":"Reduced"}}},
  {"data":{"values":[{}]},"mark":{"type":"text","align":"left","baseline":"middle","fontSize":38,"font":"DejaVu Serif","fontStyle":"italic","dx":147},
   "encoding":{"x":{"datum":0.6,"type":"quantitative","axis":null},"y":{"datum":0.345,"type":"quantitative","axis":null},"text":{"value":"χ"}}},
  {"data":{"values":[{}]},"mark":{"type":"text","align":"left","baseline":"middle","fontSize":22,"font":"DejaVu Serif","dx":172,"dy":-13},
   "encoding":{"x":{"datum":0.6,"type":"quantitative","axis":null},"y":{"datum":0.345,"type":"quantitative","axis":null},"text":{"value":"2"}}},
  {"data":{"values":[{}]},"mark":{"type":"text","align":"left","baseline":"middle","fontSize":31,"dx":193},
   "encoding":{"x":{"datum":0.6,"type":"quantitative","axis":null},"y":{"datum":0.345,"type":"quantitative","axis":null},"text":{"value":":"}}},
  {"data":{"values":[{}]},"mark":{"type":"text","align":"left","baseline":"middle","fontSize":31,"dx":216},
   "encoding":{"x":{"datum":0.6,"type":"quantitative","axis":null},"y":{"datum":0.345,"type":"quantitative","axis":null},"text":{"value":"1.5"}}}
 ]},
{"width":846,"height":201.3,"resolve":{"axis":{"x":"independent","y":"independent"}},
 "layer":[
  {"data":{"name":"obs"},"mark":{"type":"line","strokeWidth":2,"clip":true},
   "encoding":{
    "x":{"field":"p","type":"quantitative","scale":{"domain":[0,1],"nice":false,"zero":false},"axis":{"orient":"bottom","values":[0,0.2,0.4,0.6,0.8,1],"labels":false,"title":null}},
    "y":{"field":"e","type":"quantitative","scale":{"domain":[-0.1,1.1],"nice":false,"zero":false},"axis":{"orient":"left","values":[-0.1,0.3,0.7],"format":".1f","title":null}},
    "color":{"datum":"74.3 MHz","type":"nominal","scale":{"range":["#ff0000"]},"legend":{"title":null}}}},
  {"data":{"name":"fit"},"mark":{"type":"line","color":"#0000ff","strokeWidth":2.5,"clip":true,"interpolate":"monotone"},
   "encoding":{
    "x":{"field":"p","type":"quantitative","scale":{"domain":[0,1],"nice":false,"zero":false},"axis":{"orient":"top","values":[0,0.2,0.4,0.6,0.8,1],"labels":false,"title":null}},
    "y":{"field":"e","type":"quantitative","scale":{"domain":[-0.1,1.1],"nice":false,"zero":false},"axis":{"orient":"right","values":[-0.1,0.3,0.7],"labels":false,"title":null}}}},
  {"data":{"values":[{}]},"mark":{"type":"text","align":"left","baseline":"middle","fontSize":31},
   "encoding":{"x":{"datum":0.6,"type":"quantitative","axis":null},"y":{"datum":0.345,"type":"quantitative","axis":null},"text":{"value":"Reduced"}}},
  {"data":{"values":[{}]},"mark":{"type":"text","align":"left","baseline":"middle","fontSize":38,"font":"DejaVu Serif","fontStyle":"italic","dx":147},
   "encoding":{"x":{"datum":0.6,"type":"quantitative","axis":null},"y":{"datum":0.345,"type":"quantitative","axis":null},"text":{"value":"χ"}}},
  {"data":{"values":[{}]},"mark":{"type":"text","align":"left","baseline":"middle","fontSize":22,"font":"DejaVu Serif","dx":172,"dy":-13},
   "encoding":{"x":{"datum":0.6,"type":"quantitative","axis":null},"y":{"datum":0.345,"type":"quantitative","axis":null},"text":{"value":"2"}}},
  {"data":{"values":[{}]},"mark":{"type":"text","align":"left","baseline":"middle","fontSize":31,"dx":193},
   "encoding":{"x":{"datum":0.6,"type":"quantitative","axis":null},"y":{"datum":0.345,"type":"quantitative","axis":null},"text":{"value":":"}}},
  {"data":{"values":[{}]},"mark":{"type":"text","align":"left","baseline":"middle","fontSize":31,"dx":216},
   "encoding":{"x":{"datum":0.6,"type":"quantitative","axis":null},"y":{"datum":0.345,"type":"quantitative","axis":null},"text":{"value":"2.3"}}}
 ]},
{"width":846,"height":201.3,"resolve":{"axis":{"x":"independent","y":"independent"}},
 "layer":[
  {"data":{"name":"obs"},"mark":{"type":"line","strokeWidth":2,"clip":true},
   "encoding":{
    "x":{"field":"p","type":"quantitative","scale":{"domain":[0,1],"nice":false,"zero":false},"axis":{"orient":"bottom","values":[0,0.2,0.4,0.6,0.8,1],"format":".1f","title":"Pulse Phase","labelPadding":26,"titlePadding":8}},
    "y":{"field":"f","type":"quantitative","scale":{"domain":[0,1.1],"nice":false,"zero":false},"axis":{"orient":"left","values":[0,0.4,0.8],"format":".1f","title":null}},
    "color":{"datum":"84.1 MHz","type":"nominal","scale":{"range":["#ff0000"]},"legend":{"title":null}}}},
  {"data":{"name":"fit"},"mark":{"type":"line","color":"#0000ff","strokeWidth":2.5,"clip":true,"interpolate":"monotone"},
   "encoding":{
    "x":{"field":"p","type":"quantitative","scale":{"domain":[0,1],"nice":false,"zero":false},"axis":{"orient":"top","values":[0,0.2,0.4,0.6,0.8,1],"labels":false,"title":null}},
    "y":{"field":"f","type":"quantitative","scale":{"domain":[0,1.1],"nice":false,"zero":false},"axis":{"orient":"right","values":[0,0.4,0.8],"labels":false,"title":null}}}},
  {"data":{"values":[{}]},"mark":{"type":"text","align":"left","baseline":"middle","fontSize":31},
   "encoding":{"x":{"datum":0.6,"type":"quantitative","axis":null},"y":{"datum":0.345,"type":"quantitative","axis":null},"text":{"value":"Reduced"}}},
  {"data":{"values":[{}]},"mark":{"type":"text","align":"left","baseline":"middle","fontSize":38,"font":"DejaVu Serif","fontStyle":"italic","dx":147},
   "encoding":{"x":{"datum":0.6,"type":"quantitative","axis":null},"y":{"datum":0.345,"type":"quantitative","axis":null},"text":{"value":"χ"}}},
  {"data":{"values":[{}]},"mark":{"type":"text","align":"left","baseline":"middle","fontSize":22,"font":"DejaVu Serif","dx":172,"dy":-13},
   "encoding":{"x":{"datum":0.6,"type":"quantitative","axis":null},"y":{"datum":0.345,"type":"quantitative","axis":null},"text":{"value":"2"}}},
  {"data":{"values":[{}]},"mark":{"type":"text","align":"left","baseline":"middle","fontSize":31,"dx":193},
   "encoding":{"x":{"datum":0.6,"type":"quantitative","axis":null},"y":{"datum":0.345,"type":"quantitative","axis":null},"text":{"value":":"}}},
  {"data":{"values":[{}]},"mark":{"type":"text","align":"left","baseline":"middle","fontSize":31,"dx":216},
   "encoding":{"x":{"datum":0.6,"type":"quantitative","axis":null},"y":{"datum":0.345,"type":"quantitative","axis":null},"text":{"value":"3.2"}}}
 ]}
]
}
